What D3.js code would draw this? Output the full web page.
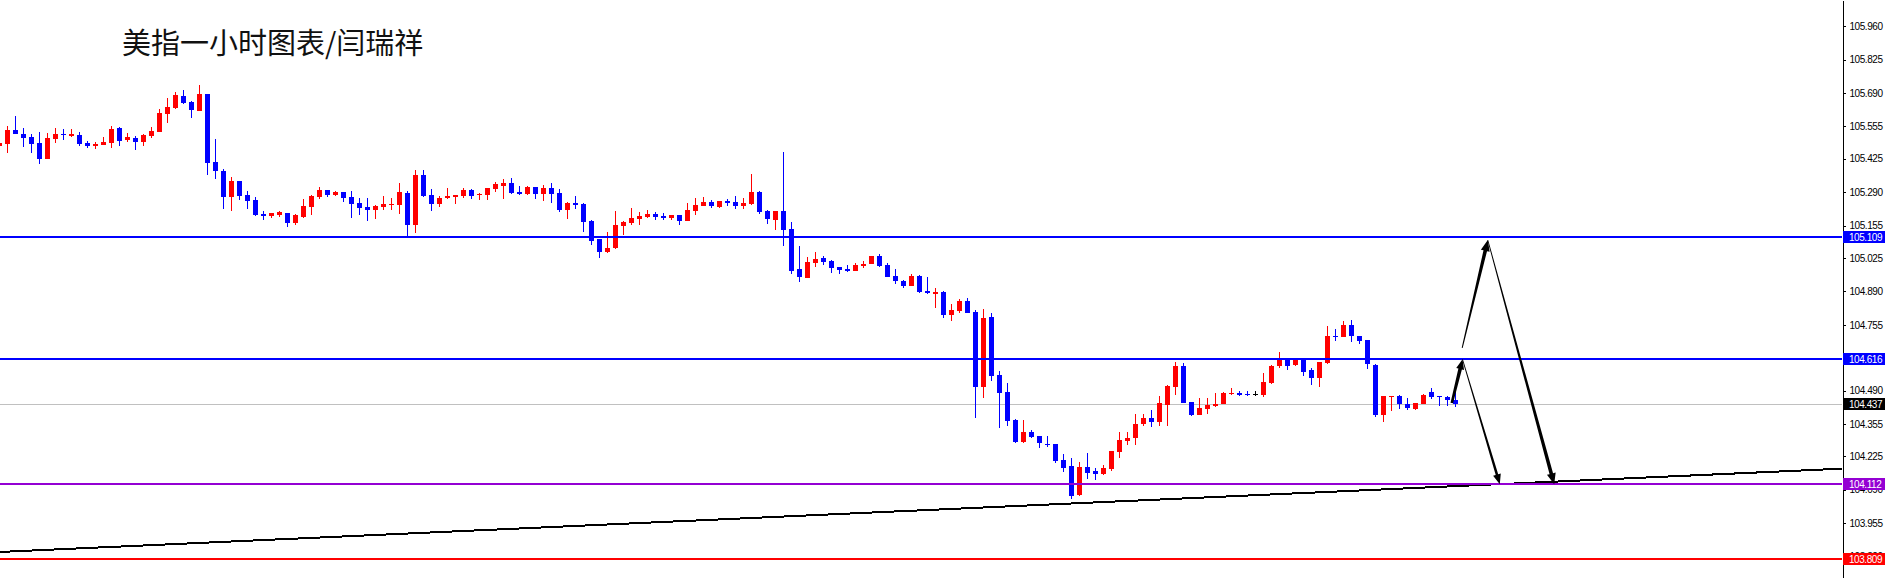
<!DOCTYPE html>
<html><head><meta charset="utf-8">
<script src="https://cdn.jsdelivr.net/npm/d3@7/dist/d3.min.js"></script>
<style>html,body{margin:0;padding:0;background:#fff;overflow:hidden}</style>
</head><body>
<svg id="c" width="1889" height="578"></svg>
<script>
// ---- DATA ----
const opens=[105.478,105.486,105.541,105.525,105.513,105.488,105.425,105.506,105.525,105.518,105.521,105.488,105.478,105.482,105.490,105.549,105.502,105.509,105.494,105.518,105.534,105.607,105.631,105.678,105.654,105.619,105.686,105.412,105.375,105.272,105.335,105.279,105.259,105.202,105.195,105.199,105.206,105.167,105.191,105.232,105.272,105.299,105.280,105.291,105.271,105.246,105.230,105.220,105.232,105.240,105.240,105.287,105.159,105.359,105.279,105.244,105.267,105.271,105.275,105.299,105.279,105.280,105.303,105.315,105.327,105.291,105.283,105.311,105.284,105.307,105.287,105.220,105.248,105.242,105.175,105.101,105.050,105.065,105.155,105.167,105.182,105.190,105.202,105.194,105.186,105.198,105.175,105.216,105.236,105.251,105.232,105.256,105.251,105.236,105.244,105.291,105.214,105.179,105.214,105.142,104.982,104.945,105.006,105.025,105.013,104.988,104.982,104.974,104.994,105.002,105.033,104.997,104.953,104.933,104.913,104.953,104.893,104.881,104.889,104.796,104.812,104.853,104.808,104.506,104.788,104.554,104.486,104.372,104.283,104.323,104.307,104.275,104.275,104.208,104.186,104.069,104.182,104.166,104.155,104.174,104.243,104.287,104.299,104.354,104.381,104.365,104.432,104.506,104.589,104.444,104.392,104.416,104.429,104.437,104.475,104.479,104.476,104.475,104.470,104.522,104.589,104.616,104.591,104.616,104.573,104.542,104.603,104.710,104.705,104.755,104.710,104.694,104.593,104.392,104.462,104.468,104.436,104.416,104.437,104.484,104.466,104.463,104.452];
const highs=[105.494,105.557,105.597,105.549,105.525,105.533,105.527,105.549,105.545,105.545,105.533,105.496,105.492,105.513,105.557,105.553,105.529,105.517,105.525,105.553,105.625,105.670,105.693,105.702,105.658,105.722,105.686,105.505,105.384,105.351,105.335,105.295,105.271,105.214,105.208,105.214,105.208,105.202,105.263,105.279,105.311,105.299,105.295,105.292,105.295,105.267,105.267,105.238,105.275,105.267,105.327,105.295,105.380,105.380,105.303,105.275,105.307,105.279,105.307,105.303,105.287,105.307,105.331,105.343,105.347,105.315,105.315,105.311,105.319,105.327,105.303,105.252,105.275,105.246,105.179,105.103,105.130,105.214,105.175,105.226,105.210,105.218,105.210,105.206,105.198,105.198,105.246,105.267,105.271,105.259,105.255,105.263,105.275,105.267,105.363,105.295,105.218,105.214,105.452,105.171,105.074,105.030,105.049,105.033,105.017,104.988,104.997,105.005,105.013,105.033,105.041,105.005,104.980,104.937,104.962,104.956,104.949,104.905,104.893,104.837,104.861,104.865,104.816,104.820,104.804,104.570,104.522,104.374,104.372,104.331,104.307,104.307,104.275,104.235,104.216,104.202,104.237,104.177,104.190,104.248,104.323,104.323,104.396,104.396,104.412,104.466,104.513,104.605,104.600,104.444,104.458,104.458,104.480,104.483,104.499,104.490,104.490,104.490,104.560,104.593,104.647,104.616,104.616,104.616,104.580,104.605,104.751,104.737,104.771,104.775,104.710,104.694,104.597,104.467,104.468,104.471,104.459,104.439,104.476,104.501,104.466,104.466,104.490];
const lows=[105.474,105.449,105.523,105.474,105.449,105.405,105.425,105.490,105.502,105.514,105.478,105.470,105.466,105.482,105.470,105.478,105.494,105.462,105.478,105.510,105.534,105.570,105.627,105.646,105.591,105.619,105.361,105.345,105.224,105.216,105.260,105.224,105.195,105.179,105.187,105.191,105.151,105.159,105.187,105.199,105.264,105.272,105.276,105.252,105.187,105.199,105.175,105.183,105.220,105.220,105.203,105.115,105.127,105.270,105.216,105.232,105.264,105.244,105.268,105.264,105.260,105.260,105.292,105.264,105.284,105.280,105.279,105.264,105.256,105.248,105.212,105.183,105.224,105.131,105.078,105.026,105.046,105.062,105.119,105.159,105.159,105.187,105.179,105.179,105.179,105.159,105.175,105.198,105.236,105.228,105.228,105.236,105.224,105.224,105.240,105.203,105.163,105.139,105.074,104.958,104.929,104.945,104.990,104.998,104.966,104.962,104.970,104.974,104.986,105.002,104.990,104.949,104.921,104.905,104.913,104.885,104.881,104.824,104.784,104.772,104.804,104.804,104.381,104.458,104.530,104.337,104.349,104.280,104.280,104.298,104.259,104.263,104.197,104.162,104.054,104.065,104.134,104.131,104.151,104.165,104.218,104.272,104.272,104.345,104.343,104.345,104.345,104.471,104.441,104.386,104.392,104.397,104.425,104.437,104.470,104.466,104.466,104.466,104.462,104.515,104.580,104.573,104.587,104.549,104.514,104.503,104.596,104.691,104.705,104.687,104.679,104.576,104.385,104.365,104.409,104.417,104.412,104.412,104.437,104.456,104.429,104.429,104.425];
const closes=[105.490,105.541,105.526,105.510,105.486,105.425,105.509,105.525,105.522,105.525,105.486,105.478,105.486,105.492,105.545,105.498,105.513,105.494,105.521,105.537,105.609,105.634,105.682,105.650,105.623,105.686,105.409,105.377,105.272,105.335,105.276,105.256,105.199,105.195,105.206,105.210,105.167,105.198,105.234,105.275,105.299,105.280,105.291,105.268,105.244,105.228,105.220,105.234,105.242,105.242,105.291,105.159,105.359,105.276,105.244,105.267,105.275,105.279,105.299,105.276,105.283,105.307,105.323,105.327,105.288,105.284,105.311,105.284,105.307,105.284,105.220,105.246,105.240,105.171,105.095,105.050,105.065,105.158,105.171,105.186,105.194,105.202,105.190,105.186,105.198,105.175,105.218,105.238,105.251,105.236,105.255,105.246,105.236,105.248,105.291,105.212,105.183,105.214,105.139,104.974,104.949,105.009,105.022,105.009,104.984,104.978,104.974,104.997,105.002,105.033,104.994,104.949,104.933,104.913,104.953,104.889,104.885,104.889,104.796,104.816,104.853,104.804,104.506,104.784,104.550,104.482,104.369,104.283,104.323,104.304,104.280,104.269,104.205,104.178,104.065,104.182,104.159,104.155,104.178,104.247,104.291,104.299,104.355,104.381,104.364,104.440,104.509,104.589,104.441,104.392,104.421,104.432,104.436,104.480,104.479,104.472,104.474,104.475,104.523,104.589,104.616,104.589,104.613,104.566,104.542,104.605,104.710,104.704,104.755,104.708,104.691,104.596,104.392,104.467,104.468,104.435,104.421,104.439,104.471,104.462,104.463,104.450,104.437];
const tickValues=[105.960,105.825,105.690,105.555,105.425,105.290,105.155,105.025,104.890,104.755,104.620,104.490,104.355,104.225,104.090,103.955,103.820];
const levelPrices=[105.109,104.616,104.112,103.809];
const currentPrice=104.437;
const priceDomain=[103.734,106.065];
// trend line anchors: [candle index, price]
const trendPoints=[[0.125,103.839],[230.375,104.175]];
// arrows: [fromIndex, fromPrice, toIndex, toPrice]
const arrowSegs=[[181.6,104.440,182.94,104.616],[182.94,104.616,187.6,104.112],[182.9,104.662,186.1,105.097],[186.1,105.097,194.4,104.112]];
const title="美指一小时图表/闫瑞祥";

// ---- STYLE / LAYOUT ----
const W=1889,H=578,axisX=1842;
const levelColors=['#0000ff','#0000ff','#9400d3','#ff0000'];
const arrowStyle=[{w0:2.6,w1:3.6,hl:10,hh:4},{w0:0.8,w1:2.6,hl:10,hh:4},{w0:1,w1:3.6,hl:11,hh:4.5},{w0:0.8,w1:3.6,hl:11,hh:4.5}];

const svg=d3.select('#c');
const N=opens.length;
const x=d3.scaleLinear().domain([0,N-1]).range([-1,-1+8*(N-1)]);
const y=d3.scaleLinear().domain(priceDomain).range([H,0]);

const candles=d3.range(N).map(i=>({i,o:opens[i],h:highs[i],l:lows[i],c:closes[i]}));
const col=d=>d.c>d.o?'#ff0000':(d.c<d.o?'#0000ff':'#000000');

// current price line (behind candles)
svg.append('line').attr('x1',0).attr('x2',axisX).attr('y1',Math.round(y(currentPrice))+0.5).attr('y2',Math.round(y(currentPrice))+0.5)
  .attr('stroke','#c0c0c0').attr('stroke-width',1).attr('shape-rendering','crispEdges');

const g=svg.append('g').attr('shape-rendering','crispEdges');
g.selectAll('rect.w').data(candles).join('rect').attr('class','w')
  .attr('x',d=>Math.round(x(d.i))).attr('width',1)
  .attr('y',d=>Math.round(y(d.h))).attr('height',d=>Math.max(1,Math.round(y(d.l))-Math.round(y(d.h))))
  .attr('fill',col);
g.selectAll('rect.b').data(candles).join('rect').attr('class','b')
  .attr('x',d=>Math.round(x(d.i))-2).attr('width',5)
  .attr('y',d=>Math.round(y(Math.max(d.o,d.c))))
  .attr('height',d=>Math.max(1,Math.round(y(Math.min(d.o,d.c)))-Math.round(y(Math.max(d.o,d.c)))))
  .attr('fill',col);

// trend line
const tx=p=>x(p[0]), ty=p=>y(p[1]);
svg.append('line').attr('x1',tx(trendPoints[0])).attr('y1',ty(trendPoints[0]))
  .attr('x2',tx(trendPoints[1])).attr('y2',ty(trendPoints[1]))
  .attr('stroke','#000').attr('stroke-width',2).attr('shape-rendering','crispEdges');

// level lines
levelPrices.forEach((p,k)=>{
  const yy=Math.round(y(p));
  svg.append('rect').attr('x',0).attr('width',axisX).attr('y',yy-1).attr('height',2)
    .attr('fill',levelColors[k]).attr('shape-rendering','crispEdges');
});

// arrows
function arrowPath(s,st){
  const x0=x(s[0]),y0=y(s[1]),x1=x(s[2]),y1=y(s[3]);
  const dx=x1-x0,dy=y1-y0,len=Math.hypot(dx,dy),ux=dx/len,uy=dy/len,nx=-uy,ny=ux;
  const sx=x1-ux*st.hl,sy=y1-uy*st.hl;
  const pts=[[x0+nx*st.w0/2,y0+ny*st.w0/2],[sx+nx*st.w1/2,sy+ny*st.w1/2],[sx+nx*st.hh,sy+ny*st.hh],[x1,y1],
    [sx-nx*st.hh,sy-ny*st.hh],[sx-nx*st.w1/2,sy-ny*st.w1/2],[x0-nx*st.w0/2,y0-ny*st.w0/2]];
  return 'M'+pts.map(p=>p[0].toFixed(2)+','+p[1].toFixed(2)).join('L')+'Z';
}
svg.selectAll('path.arrow').data(arrowSegs).join('path').attr('class','arrow')
  .attr('d',(s,k)=>arrowPath(s,arrowStyle[k])).attr('fill','#000');

// right price axis
svg.append('rect').attr('x',axisX+1).attr('y',0).attr('width',W-axisX-1).attr('height',H).attr('fill','#fff');
const axis=d3.axisRight(y).tickValues(tickValues).tickSizeInner(3).tickSizeOuter(0).tickPadding(4).tickFormat(d3.format('.3f'));
const ag=svg.append('g').attr('transform',`translate(${axisX+0.5},0)`).call(axis);
ag.select('.domain').attr('stroke','#000').attr('shape-rendering','crispEdges');
ag.selectAll('.tick line').attr('stroke','#000').attr('shape-rendering','crispEdges');
ag.selectAll('.tick text').attr('font-family','"Liberation Sans", Arial, sans-serif').attr('font-size','10px').attr('fill','#000').attr('letter-spacing','-0.45px');

// price labels boxes
const boxes=levelPrices.map((p,k)=>({p,bg:levelColors[k]})).concat([{p:currentPrice,bg:'#000000'}]);
boxes.forEach(b=>{
  const yy=Math.round(y(b.p));
  svg.append('rect').attr('x',axisX+1).attr('y',yy-6).attr('width',42).attr('height',12).attr('fill',b.bg).attr('shape-rendering','crispEdges');
  svg.append('text').attr('x',axisX+7).attr('y',yy).attr('dy','0.35em').text(d3.format('.3f')(b.p))
    .attr('font-family','"Liberation Sans", Arial, sans-serif').attr('font-size','10px').attr('letter-spacing','-0.45px').attr('fill','#fff');
});

// title
svg.append('text').attr('x',122).attr('y',54).text(title)
  .attr('font-family','"Noto Sans CJK SC", sans-serif').attr('font-size','29px').attr('fill','#111');
</script>
</body></html>
